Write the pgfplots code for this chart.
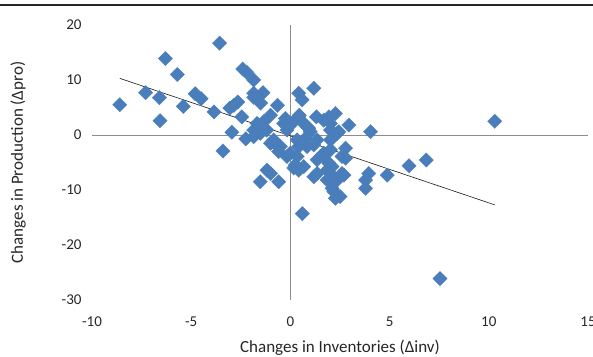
\documentclass[border=0pt]{standalone}
\usepackage{pgfplots}
\pgfplotsset{compat=1.18}
\usepackage{fontspec}
\setmainfont{Carlito}
\definecolor{pt}{HTML}{4A7EBB}
\begin{document}
\begin{tikzpicture}
\begin{axis}[
  scale only axis, width=496pt, height=275pt,
  xmin=-10, xmax=15, ymin=-30, ymax=20,
  xtick={-10,-5,0,5,10,15}, ytick={-30,-20,-10,0,10,20},
  axis line style={draw=none}, major tick length=0pt,
  /pgf/number format/assume math mode=true,
  tick label style={font=\fontsize{15}{17}\selectfont, text=black!85},
  xticklabel style={yshift=-13pt},
  yticklabel style={xshift=-7pt},
  xlabel={Changes in Inventories (Δinv)},
  ylabel={Changes in Production (Δpro)},
  label style={font=\fontsize{17}{19}\selectfont, text=black!85},
  xlabel style={at={(axis description cs:0.5,-0.1745)}, anchor=center},
  ylabel style={at={(axis description cs:-0.149,0.5)}, anchor=center},
  clip=false,
]
\draw[black!45, line width=0.8pt] (axis cs:0,-30) -- (axis cs:0,20);
\draw[black!45, line width=0.8pt] (axis cs:-10,0) -- (axis cs:15,0);
\addplot[only marks, mark=square*, mark size=5.1pt, mark options={rotate=45, fill=pt, draw=pt, line width=0.2pt}] coordinates {
(-8.6,5.5) (-7.3,7.7) (-6.6,6.8) (-6.57,2.6) (-6.3,13.9) (-5.7,11.0) (-5.4,5.2)
(-4.8,7.5) (-4.5,6.6) (-3.85,4.2) (-3.57,16.7) (-3.4,-2.9) (-2.95,0.5) (-3.05,4.9)
(-2.85,5.4) (-2.65,6.0) (-2.45,3.3) (-2.4,12.0) (-2.2,11.4) (-2.25,-0.7) (-1.85,10.0)
(-1.85,7.6) (-1.85,6.85) (-1.38,7.7) (-1.5,5.8) (-1.85,0.9) (-1.85,-0.3) (-1.68,2.1)
(-1.35,2.4) (-1.52,0.3) (-1.2,0.9) (-1.0,3.6) (-0.65,5.4) (-0.34,2.1) (-0.17,0.9)
(-0.25,3.0) (-0.84,-0.9) (-0.84,-1.3) (-1.0,-1.5) (-0.5,-2.1) (-0.59,-3.0) (-0.17,-3.9)
(0,-3.3) (-1.18,-6.4) (-1.0,-7.0) (-1.52,-8.5) (-0.59,-8.5) (0.08,2.1) (0.42,3.3)
(0.45,3.6) (0.59,2.4) (0.84,1.5) (0.93,1.2) (1.0,0.6) (0.42,7.6) (0.59,6.4)
(1.18,8.5) (1.31,3.3) (1.68,2.7) (1.94,3.3) (2.27,3.9) (2.02,2.1) (2.02,0.9)
(2.36,0.3) (2.44,0.6) (2.95,1.8) (4.04,0.6) (10.3,2.5) (0.76,-0.6) (0.34,-0.9)
(0.42,-2.1) (0.84,-2.1) (0.34,-3.9) (0.25,-5.45) (0.17,-6.0) (0.67,-5.75) (0.42,-6.4)
(1.18,-1.8) (1.35,-0.9) (1.35,-4.5) (1.68,-3.3) (1.68,-3.9) (2.02,-0.9) (2.02,-2.7)
(1.85,-6.4) (2.1,-5.75) (1.94,-5.15) (2.6,-3.9) (2.78,-2.4) (2.78,-4.2) (1.35,-7.0)
(2.02,-7.0) (2.6,-7.0) (2.7,-7.3) (1.18,-7.6) (1.85,-8.2) (2.36,-8.2) (2.1,-9.7)
(2.5,-11.2) (2.27,-11.5) (2.19,-10.3) (0.6,-14.3) (3.95,-7.0) (3.79,-8.2) (3.79,-9.7)
(4.88,-7.3) (5.98,-5.6) (6.85,-4.55) (7.54,-26.1)
};
\addplot[black!90, line width=0.6pt] coordinates {(-8.6,10.3) (10.3,-12.7)};
\end{axis}
\draw[black!85, line width=1.3pt] (-92pt,295pt) -- (501pt,295pt);
\pgfresetboundingbox
\useasboundingbox (-92pt,-56pt) rectangle (501pt,300pt);
\end{tikzpicture}
\end{document}
